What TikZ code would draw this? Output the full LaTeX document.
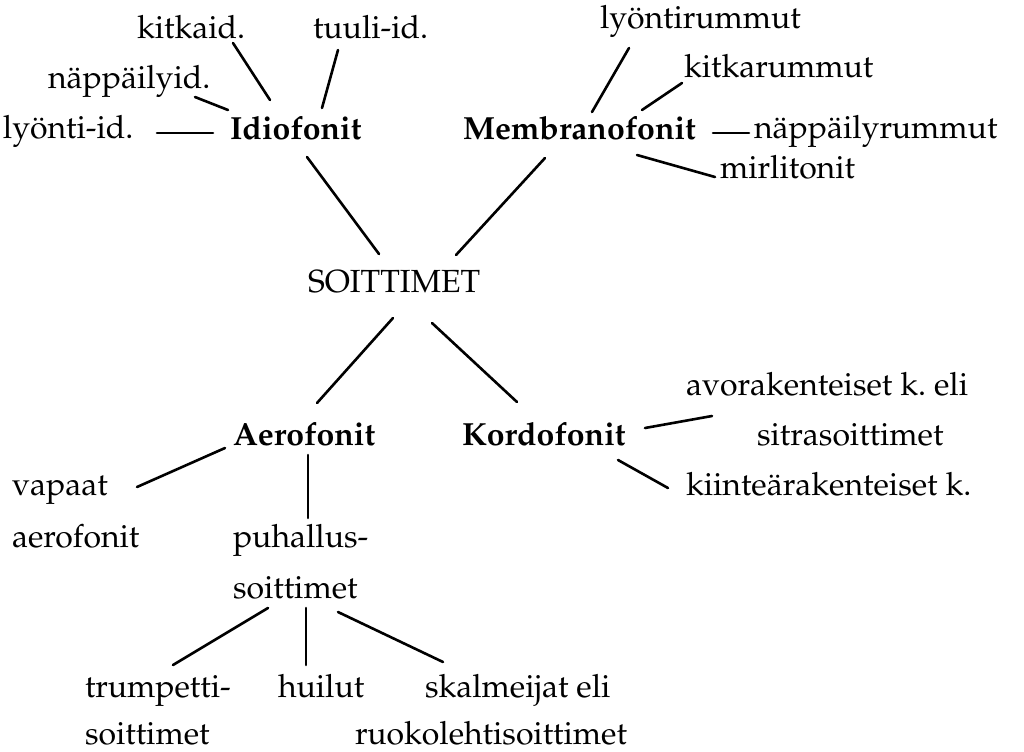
\documentclass[tikz,border=0pt]{standalone}
\usepackage[T1]{fontenc}
\usepackage{mathpazo}
\usetikzlibrary{calc}
\tikzset{
  lbl/.style={anchor=base west,inner sep=0pt,outer sep=0pt,font=\fontsize{16}{19}\selectfont},
  blbl/.style={lbl,font=\fontsize{16}{19}\selectfont\bfseries},
  conn/.style={line width=1.3pt,line cap=round}
}
\begin{document}
\begin{tikzpicture}[x=0.5pt,y=-0.5pt]
\useasboundingbox (0,0) rectangle (1024,751);
% nodes
\node[lbl] (kitk) at (137,38) {kitkaid.};
\node[lbl] (tuul) at (313,38) {tuuli-id.};
\node[lbl] (napi) at (48,88) {n\"app\"ailyid.};
\node[lbl] (lyid) at (3,138) {ly\"onti-id.};
\node[blbl] (idio) at (230,139) {Idiofonit};
\node[blbl] (memb) at (463,139) {Membranofonit};
\node[lbl] (lyrm) at (600,28) {ly\"ontirummut};
\node[lbl] (kitr) at (684,77) {kitkarummut};
\node[lbl] (naprm) at (754,138) {n\"app\"ailyrummut};
\node[lbl] (mirl) at (720,178) {mirlitonit};
\node[lbl] (soit) at (308,292) {SOITTIMET};
\node[blbl] (aero) at (233,445) {Aerofonit};
\node[blbl] (kord) at (462,445) {Kordofonit};
\node[lbl] (avor) at (686,395) {avorakenteiset k.\ eli};
\node[lbl] (sitr) at (757,445) {sitrasoittimet};
\node[lbl] (kiin) at (686,495) {kiinte\"arakenteiset k.};
\node[lbl] (vapa) at (12,495) {vapaat};
\node[lbl] (aerf) at (12,547) {aerofonit};
\node[lbl] (puh1) at (233,547) {puhallus-};
\node[lbl] (puh2) at (233,598) {soittimet};
\node[lbl] (trum1) at (85,697) {trumpetti-};
\node[lbl] (trum2) at (85,744) {soittimet};
\node[lbl] (huil) at (278,697) {huilut};
\node[lbl] (skal1) at (425,697) {skalmeijat eli};
\node[lbl] (skal2) at (355,744) {ruokolehtisoittimet};
% connectors
\draw[conn] ($(kitk.base west)+(96,5)$) -- ($(idio.base west)+(40,-39)$);
\draw[conn] ($(tuul.base west)+(25,12)$) -- ($(idio.base west)+(92,-31)$);
\draw[conn] ($(napi.base west)+(147,9)$) -- ($(idio.base west)+(-2,-29)$);
\draw[conn] ($(lyid.base west)+(154,-5)$) -- ($(idio.base west)+(-17,-6)$);
\draw[conn] ($(idio.base west)+(77,18)$) -- ($(soit.base west)+(71,-38)$);
\draw[conn] ($(lyrm.base west)+(29,20)$) -- ($(memb.base west)+(129,-27)$);
\draw[conn] ($(kitr.base west)+(-2,6)$) -- ($(memb.base west)+(179,-29)$);
\draw[conn] ($(memb.base west)+(250,-6)$) -- ($(naprm.base west)+(-5,-5)$);
\draw[conn] ($(memb.base west)+(174,16)$) -- ($(mirl.base west)+(-5,-1)$);
\draw[conn] ($(memb.base west)+(82,19)$) -- ($(soit.base west)+(148,-37)$);
\draw[conn] ($(soit.base west)+(85,26)$) -- ($(aero.base west)+(84,-42)$);
\draw[conn] ($(soit.base west)+(124,31)$) -- ($(kord.base west)+(55,-43)$);
\draw[conn] ($(kord.base west)+(183,-17)$) -- ($(avor.base west)+(26,21)$);
\draw[conn] ($(kord.base west)+(156,15)$) -- ($(kiin.base west)+(-18,-7)$);
\draw[conn] ($(aero.base west)+(-8,3)$) -- ($(vapa.base west)+(125,-8)$);
\draw[conn] ($(aero.base west)+(75,10)$) -- ($(puh1.base west)+(75,-29)$);
\draw[conn] ($(puh2.base west)+(35,10)$) -- ($(trum1.base west)+(88,-32)$);
\draw[conn] ($(puh2.base west)+(73,10)$) -- ($(huil.base west)+(28,-32)$);
\draw[conn] ($(puh2.base west)+(105,14)$) -- ($(skal1.base west)+(18,-35)$);
\end{tikzpicture}
\end{document}
